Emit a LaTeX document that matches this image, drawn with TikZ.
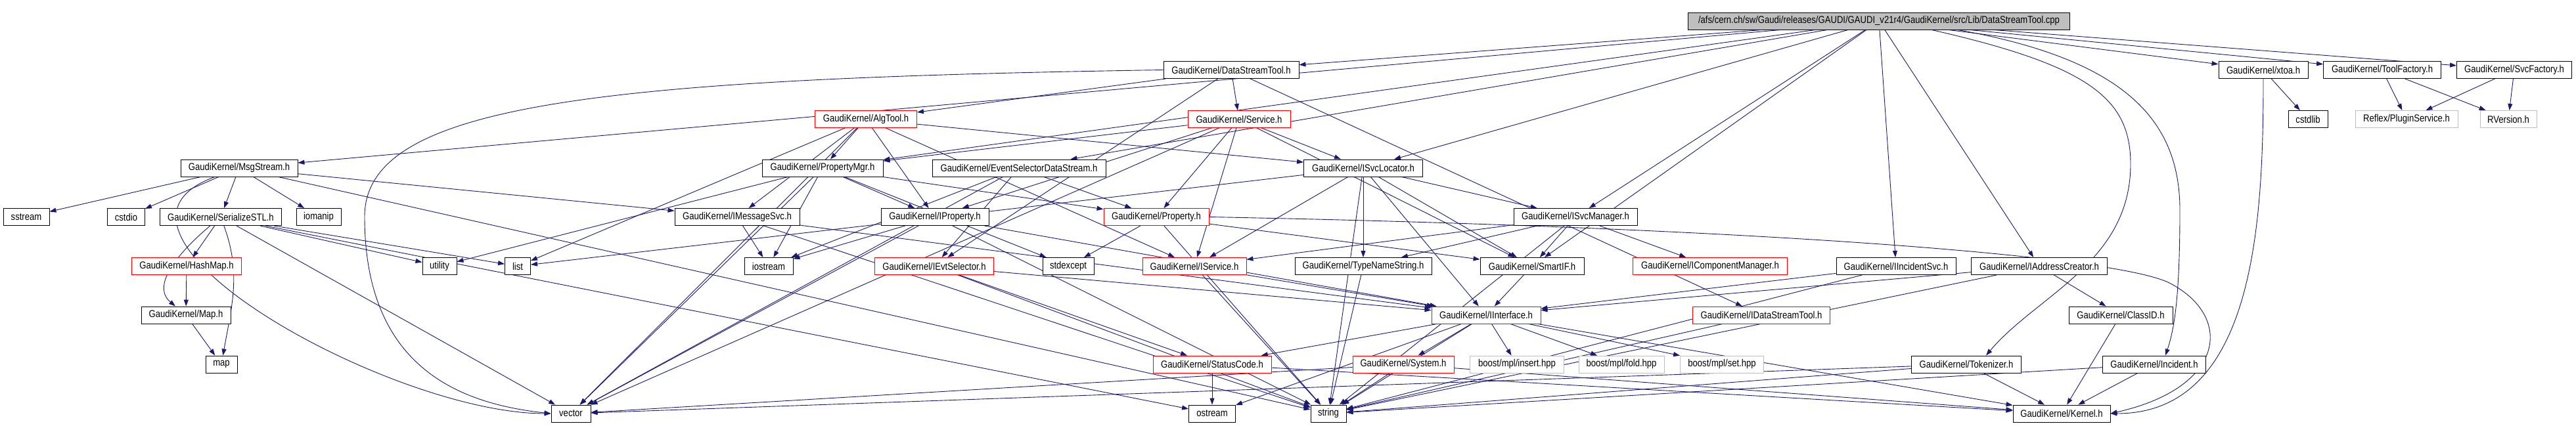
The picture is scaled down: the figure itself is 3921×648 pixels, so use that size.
\documentclass[tikz,border=0pt]{standalone}
\usepackage{fontspec}
\setmainfont{Liberation Sans}[FakeStretch=0.85]
\usepackage{tikz}
\usetikzlibrary{arrows.meta,backgrounds}
\definecolor{depblue}{RGB}{25,25,112}
\definecolor{boxgray}{RGB}{191,191,191}
\begin{document}
\begin{tikzpicture}[x=1pt, y=-1pt, font=\fontsize{15.4}{18}\selectfont,
  file/.style={draw=black, line width=0.9pt, fill=white, minimum height=26pt, inner xsep=2pt, inner ysep=0pt},
  trunc/.style={file, draw=red}, sys/.style={file, draw=boxgray},
  dep/.style={draw=depblue, line width=0.9pt, -{Triangle[length=10pt, width=7pt]}}]
\useasboundingbox (0,0) rectangle (3921,648);
\node[file, fill=boxgray, minimum width=581pt] (cpp) at (2860,32) {/afs/cern.ch/sw/Gaudi/releases/GAUDI/GAUDI\_v21r4/GaudiKernel/src/Lib/DataStreamTool.cpp};
\node[file, minimum width=206pt] (dst) at (1874,106.5) {GaudiKernel/DataStreamTool.h};
\node[file, minimum width=136pt] (xtoa) at (3445,106.5) {GaudiKernel/xtoa.h};
\node[file, minimum width=179pt] (toolfac) at (3626,106.5) {GaudiKernel/ToolFactory.h};
\node[file, minimum width=175pt] (svcfac) at (3827,106.5) {GaudiKernel/SvcFactory.h};
\node[trunc, minimum width=155pt] (algtool) at (1318,181.5) {GaudiKernel/AlgTool.h};
\node[trunc, minimum width=156pt] (service) at (1886,181.5) {GaudiKernel/Service.h};
\node[file, minimum width=60pt] (cstdlib) at (3513,181.5) {cstdlib};
\node[sys, minimum width=156pt] (plugin) at (3663,181.5) {Reflex/PluginService.h};
\node[sys, minimum width=86pt] (rversion) at (3818,181.5) {RVersion.h};
\node[file, minimum width=178pt] (msg) at (364,256) {GaudiKernel/MsgStream.h};
\node[file, minimum width=184pt] (pmgr) at (1252,256) {GaudiKernel/PropertyMgr.h};
\node[file, minimum width=264pt] (esds) at (1551,256) {GaudiKernel/EventSelectorDataStream.h};
\node[file, minimum width=181pt] (svcloc) at (2075,256) {GaudiKernel/ISvcLocator.h};
\node[file, minimum width=70pt] (sstream) at (40,330.5) {sstream};
\node[file, minimum width=57pt] (cstdio) at (192,330.5) {cstdio};
\node[file, minimum width=185pt] (serial) at (336,330.5) {GaudiKernel/SerializeSTL.h};
\node[file, minimum width=68pt] (iomanip) at (485,330.5) {iomanip};
\node[file, minimum width=190pt] (imsgsvc) at (1122,330.5) {GaudiKernel/IMessageSvc.h};
\node[file, minimum width=164pt] (iprop) at (1423,330.5) {GaudiKernel/IProperty.h};
\node[trunc, minimum width=160pt] (property) at (1760,330.5) {GaudiKernel/Property.h};
\node[file, minimum width=188pt] (svcmgr) at (2398,330.5) {GaudiKernel/ISvcManager.h};
\node[trunc, minimum width=167pt] (hashmap) at (284,405.5) {GaudiKernel/HashMap.h};
\node[file, minimum width=52pt] (utility) at (669,405.5) {utility};
\node[file, minimum width=39pt] (list) at (788,405.5) {list};
\node[file, minimum width=74pt] (iostream) at (1170,405.5) {iostream};
\node[trunc, minimum width=181pt] (ievtsel) at (1422,405.5) {GaudiKernel/IEvtSelector.h};
\node[file, minimum width=78pt] (stdexcept) at (1626,405.5) {stdexcept};
\node[trunc, minimum width=158pt] (iservice) at (1818,405.5) {GaudiKernel/IService.h};
\node[file, minimum width=208pt] (typename) at (2075,405.5) {GaudiKernel/TypeNameString.h};
\node[file, minimum width=158pt] (smartif) at (2332,405.5) {GaudiKernel/SmartIF.h};
\node[trunc, minimum width=235pt] (icompmgr) at (2603,405.5) {GaudiKernel/IComponentManager.h};
\node[file, minimum width=182pt] (incsvc) at (2886,405.5) {GaudiKernel/IIncidentSvc.h};
\node[file, minimum width=207pt] (addrcr) at (3104,405.5) {GaudiKernel/IAddressCreator.h};
\node[file, minimum width=136pt] (gmap) at (283,480) {GaudiKernel/Map.h};
\node[trunc, minimum width=166pt] (iinterface) at (2262,480) {GaudiKernel/IInterface.h};
\node[trunc, minimum width=209pt] (idst) at (2681,480) {GaudiKernel/IDataStreamTool.h};
\node[file, minimum width=158pt] (classid) at (3228,480) {GaudiKernel/ClassID.h};
\node[file, minimum width=48pt] (stdmap) at (337,555) {map};
\node[trunc, minimum width=180pt] (statuscode) at (1845,555) {GaudiKernel/StatusCode.h};
\node[trunc, minimum width=154pt] (system) at (2136,555) {GaudiKernel/System.h};
\node[sys, minimum width=143pt] (insert) at (2309,555) {boost/mpl/insert.hpp};
\node[sys, minimum width=130pt] (fold) at (2468,555) {boost/mpl/fold.hpp};
\node[sys, minimum width=127pt] (set) at (2621,555) {boost/mpl/set.hpp};
\node[file, minimum width=167pt] (tokenizer) at (2993,555) {GaudiKernel/Tokenizer.h};
\node[file, minimum width=157pt] (incident) at (3279,555) {GaudiKernel/Incident.h};
\node[file, minimum width=60pt] (vector) at (869,630) {vector};
\node[file, minimum width=71pt] (ostream) at (1845,630) {ostream};
\node[file, minimum width=54pt] (string) at (2022,630) {string};
\node[file, minimum width=148pt] (kernel) at (3138,630) {GaudiKernel/Kernel.h};
\begin{scope}[on background layer]
\draw[dep] (cpp) -- (dst);
\draw[dep] (cpp) -- (msg);
\draw[dep] (cpp) -- (pmgr);
\draw[dep] (cpp) -- (esds);
\draw[dep] (cpp) -- (svcloc);
\draw[dep] (cpp) -- (svcmgr);
\draw[dep] (cpp) -- (smartif);
\draw[dep] (cpp) -- (incsvc);
\draw[dep] (cpp) -- (addrcr);
\draw[dep] ([xshift=80pt]cpp.south) .. controls (3180,100) and (3243,150) .. (3243,250) .. controls (3243,400) and (3100,450) .. ([xshift=30pt]tokenizer.north);
\draw[dep] ([xshift=120pt]cpp.south) .. controls (3230,90) and (3318,180) .. (3318,320) .. controls (3318,450) and (3310,500) .. ([xshift=17pt]incident.north);
\draw[dep] (cpp) -- (xtoa);
\draw[dep] (cpp) -- (toolfac);
\draw[dep] (cpp) -- (svcfac);
\draw[dep] (dst) -- (algtool);
\draw[dep] (dst) -- (service);
\draw[dep] (dst) -- (ievtsel);
\draw[dep] (dst) -- (idst);
\draw[dep] (dst.west) .. controls (900,120) and (555,160) .. (555,330) .. controls (555,560) and (700,615) .. (vector.west);
\draw[dep] (xtoa) -- (cstdlib);
\draw[dep] (xtoa) to[out=-90, in=0] (kernel);
\draw[dep] (toolfac) -- (plugin);
\draw[dep] (toolfac) -- (rversion);
\draw[dep] (svcfac) -- (plugin);
\draw[dep] (svcfac) -- (rversion);
\draw[dep] (algtool) -- (pmgr);
\draw[dep] (algtool) -- (imsgsvc);
\draw[dep] (algtool) -- (iprop);
\draw[dep] (algtool) -- (svcloc);
\draw[dep] (algtool) -- (iservice);
\draw[dep] (algtool) -- (vector);
\draw[dep] (algtool) -- (list);
\draw[dep] (service) -- (pmgr);
\draw[dep] (service) -- (iprop);
\draw[dep] (service) -- (property);
\draw[dep] (service) -- (iservice);
\draw[dep] (service) -- (svcloc);
\draw[dep] (service) -- (smartif);
\draw[dep] (service) -- (vector);
\draw[dep] (msg) -- (sstream);
\draw[dep] (msg) -- (cstdio);
\draw[dep] (msg) -- (serial);
\draw[dep] (msg) -- (iomanip);
\draw[dep] (msg) -- (imsgsvc);
\draw[dep] (msg) to[out=-160, in=180] (vector);
\draw[dep] (msg) -- (string);
\draw[dep] (serial) -- (hashmap);
\draw[dep] (serial) to[out=-140, in=140] (gmap);
\draw[dep] (serial) to[out=-70, in=80] (stdmap);
\draw[dep] (serial) -- (utility);
\draw[dep] (serial) -- (list);
\draw[dep] (serial) -- (vector);
\draw[dep] (serial) -- (ostream);
\draw[dep] (hashmap) -- (gmap);
\draw[dep] (gmap) -- (stdmap);
\draw[dep] (pmgr) -- (iprop);
\draw[dep] (pmgr) -- (property);
\draw[dep] (pmgr) -- (iostream);
\draw[dep] (pmgr) -- (vector);
\draw[dep] (pmgr) -- (utility);
\draw[dep] (pmgr) -- (stdexcept);
\draw[dep] (esds) -- (ievtsel);
\draw[dep] (esds) -- (property);
\draw[dep] (esds) -- (iostream);
\draw[dep] (esds) -- (vector);
\draw[dep] (svcloc) -- (iservice);
\draw[dep] (svcloc) -- (typename);
\draw[dep] (svcloc) -- (iinterface);
\draw[dep] (svcloc) -- (smartif);
\draw[dep] (svcloc) -- (svcmgr);
\draw[dep] (svcloc) -- (list);
\draw[dep] (svcloc) -- (string);
\draw[dep] (imsgsvc) -- (iostream);
\draw[dep] (imsgsvc) -- (iinterface);
\draw[dep] (imsgsvc) -- (string);
\draw[dep] (iprop) -- (iostream);
\draw[dep] (iprop) -- (vector);
\draw[dep] (iprop) -- (iinterface);
\draw[dep] (iprop) -- (string);
\draw[dep] (property) -- (stdexcept);
\draw[dep] (property) -- (string);
\draw[dep] (property.east) .. controls (2600,345) and (3200,385) .. (3300,430) .. controls (3400,480) and (3390,590) .. (kernel.east);
\draw[dep] (property) -- (smartif);
\draw[dep] (svcmgr) -- (typename);
\draw[dep] (svcmgr) -- (iservice);
\draw[dep] (svcmgr) -- (smartif);
\draw[dep] (svcmgr) -- (icompmgr);
\draw[dep] (svcmgr) -- (string);
\draw[dep] (ievtsel) -- (statuscode);
\draw[dep] (ievtsel) -- (iinterface);
\draw[dep] (ievtsel) -- (string);
\draw[dep] (iservice) -- (iinterface);
\draw[dep] (iservice) -- (string);
\draw[dep] (typename) -- (string);
\draw[dep] (smartif) -- (iinterface);
\draw[dep] (incsvc) -- (iinterface);
\draw[dep] (incsvc) -- (string);
\draw[dep] (addrcr) -- (iinterface);
\draw[dep] (addrcr) -- (classid);
\draw[dep] (addrcr) -- (string);
\draw[dep] (iinterface) -- (statuscode);
\draw[dep] (iinterface) -- (system);
\draw[dep] (iinterface) -- (insert);
\draw[dep] (iinterface) -- (fold);
\draw[dep] (iinterface) -- (set);
\draw[dep] (iinterface) -- (kernel);
\draw[dep] (iinterface) -- (string);
\draw[dep] (iinterface) -- (ostream);
\draw[dep] (idst) -- (string);
\draw[dep] (classid) -- (kernel);
\draw[dep] (system) -- (string);
\draw[dep] (system) -- (vector);
\draw[dep] (system) -- (kernel);
\draw[dep] (statuscode) -- (ostream);
\draw[dep] (statuscode) -- (kernel);
\draw[dep] (tokenizer) -- (kernel);
\draw[dep] (tokenizer) -- (string);
\draw[dep] (tokenizer) -- (vector);
\draw[dep] (incident) -- (kernel);
\draw[dep] (incident) -- (string);
\end{scope}
\end{tikzpicture}
\end{document}
